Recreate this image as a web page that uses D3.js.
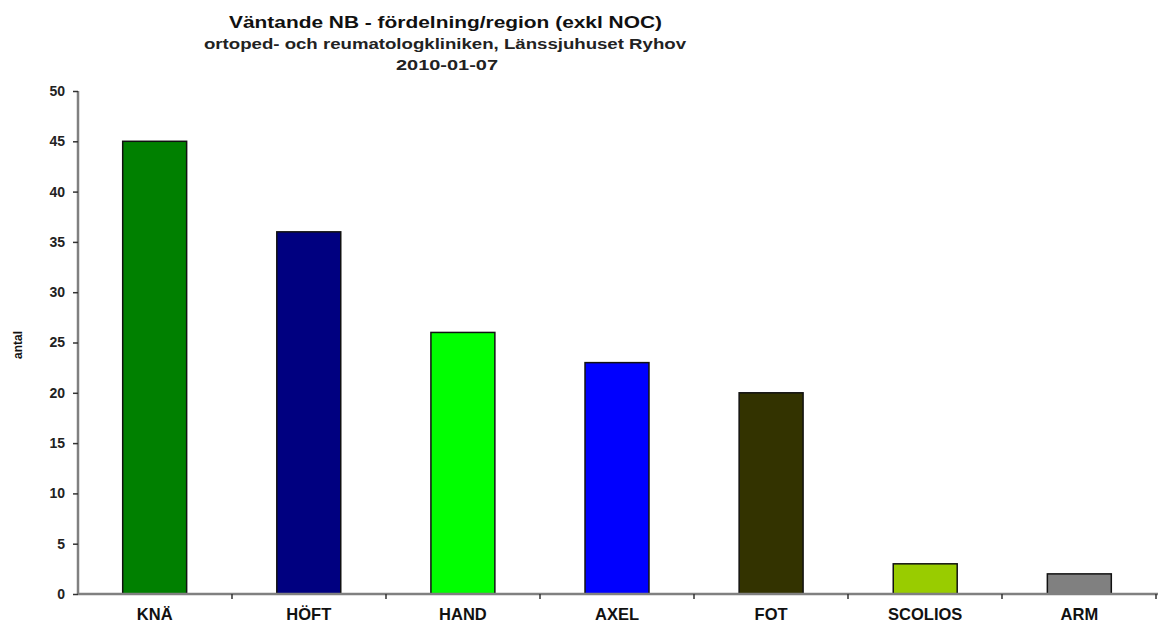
<!DOCTYPE html>
<html><head><meta charset="utf-8">
<script src="https://cdn.jsdelivr.net/npm/d3@7"></script>
<style>body{margin:0;background:#fff;} text{font-family:"Liberation Sans",Arial,sans-serif;}</style>
</head><body>
<svg id="c" width="1158" height="627"></svg>
<script>
const categories = ["KNÄ","HÖFT","HAND","AXEL","FOT","SCOLIOS","ARM"];
const values = [45,36,26,23,20,3,2];
const colors = ["#008000","#000080","#00FF00","#0000FF","#333300","#99CC00","#808080"];
const yTicks = [0,5,10,15,20,25,30,35,40,45,50];
const titleLines = ["Väntande NB - fördelning/region (exkl NOC)","ortoped- och reumatologkliniken, Länssjuhuset Ryhov","2010-01-07"];
const yLabel = "antal";

const svg = d3.select("#c");
const m = {left:78, right:1156, top:91, bottom:594};
const x = d3.scaleBand().domain(categories).range([m.left, m.right]).paddingInner(0.585).paddingOuter(0.29);
const y = d3.scaleLinear().domain([0,50]).range([m.bottom, m.top]);

// bars
svg.selectAll("rect.bar").data(values).enter().append("rect")
  .attr("x",(d,i)=>x(categories[i]))
  .attr("y",d=>y(d))
  .attr("width",x.bandwidth())
  .attr("height",d=>y(0)-y(d))
  .attr("fill",(d,i)=>colors[i])
  .attr("stroke","#111").attr("stroke-width",1.5);

// y axis
const ya = svg.append("g").attr("transform",`translate(${m.left},0)`)
  .call(d3.axisLeft(y).tickValues(yTicks).tickSize(5).tickPadding(8));
ya.select(".domain").attr("stroke","#808080").attr("stroke-width",2.5).attr("d",`M0,${m.top}V${m.bottom}`);
ya.selectAll(".tick line").attr("stroke","#333").attr("stroke-width",1.5);
ya.selectAll(".tick text").attr("font-family","Liberation Sans, Arial, sans-serif").attr("font-weight","bold").attr("font-size",14).attr("fill","#222");

// x axis
const xa = svg.append("g").attr("transform",`translate(0,${m.bottom})`)
  .call(d3.axisBottom(x).tickSize(0).tickPadding(19));
xa.select(".domain").attr("stroke","#808080").attr("stroke-width",2.5).attr("d",`M${m.left},0H1158`);
xa.selectAll(".tick text").attr("font-family","Liberation Sans, Arial, sans-serif").attr("font-weight","bold").attr("font-size",16.5).attr("fill","#111")
  .attr("dy",null).attr("y",26);
// category boundary ticks
const bounds = d3.range(categories.length+1).map(i=>m.left + i*(m.right-m.left)/categories.length);
xa.selectAll("line.bt").data(bounds.slice(1)).enter().append("line")
  .attr("x1",d=>d).attr("x2",d=>d).attr("y1",0).attr("y2",5)
  .attr("stroke","#333").attr("stroke-width",1.5);

// y label
svg.append("text").attr("transform","translate(22,345) rotate(-90)")
  .attr("text-anchor","middle").attr("font-weight","bold").attr("font-size",12).attr("fill","#111").text(yLabel);

// titles
svg.append("text").attr("x",229).attr("y",28).attr("textLength",433).attr("lengthAdjust","spacingAndGlyphs")
  .attr("font-weight","bold").attr("font-size",17).attr("fill","#111").text(titleLines[0]);
svg.append("text").attr("x",204).attr("y",49).attr("textLength",482).attr("lengthAdjust","spacingAndGlyphs")
  .attr("font-weight","bold").attr("font-size",14).attr("fill","#222").text(titleLines[1]);
svg.append("text").attr("x",396).attr("y",70).attr("textLength",102).attr("lengthAdjust","spacingAndGlyphs")
  .attr("font-weight","bold").attr("font-size",14).attr("fill","#222").text(titleLines[2]);
</script>
</body></html>
